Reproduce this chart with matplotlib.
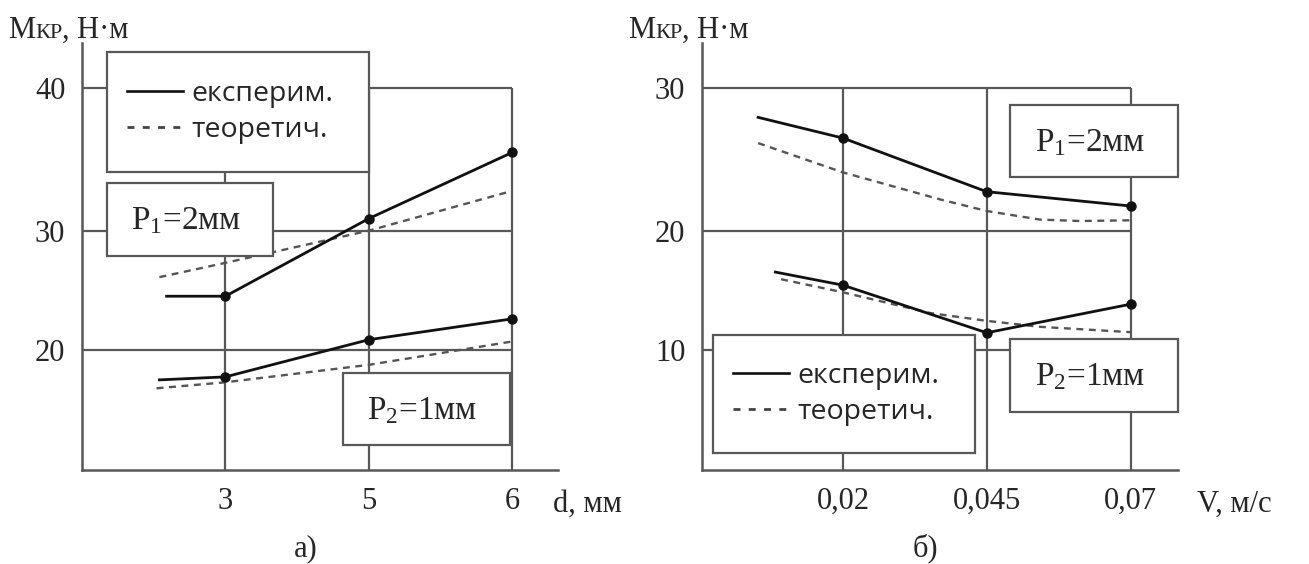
import numpy as np
import matplotlib
matplotlib.use('Agg')
import matplotlib.pyplot as plt
from matplotlib.lines import Line2D
from matplotlib.patches import Rectangle
from matplotlib.offsetbox import TextArea, HPacker, AnchoredOffsetbox

plt.rcParams['font.family'] = ['Liberation Serif', 'DejaVu Serif']
plt.rcParams['mathtext.fontset'] = 'custom'
plt.rcParams['mathtext.rm'] = 'Liberation Serif'
plt.rcParams['mathtext.it'] = 'Liberation Serif:italic'
plt.rcParams['mathtext.bf'] = 'Liberation Serif:bold'
plt.rcParams['lines.scale_dashes'] = False

W, H = 1309, 564
GRID = '#585858'
TXT = '#262626'

# а) M_kr vs d (x = index of the d tick)
d_ticks = ["3", "5", "6"]
a_yticks = [20, 30, 40]
a_p1_exp_x = [-0.41, 0, 1, 2]
a_p1_exp_y = [24.5, 24.5, 30.85, 35.5]
a_p1_th_x = [-0.46, 0, 1, 2]
a_p1_th_y = [26.1, 27.3, 30.0, 32.8]
a_p2_exp_x = [-0.46, 0, 1, 2]
a_p2_exp_y = [17.5, 17.75, 20.85, 22.6]
a_p2_th_x = [-0.48, 0, 1, 2]
a_p2_th_y = [16.8, 17.3, 18.75, 20.7]

# б) M_kr vs V (x = index of the V tick)
v_ticks = ["0,02", "0,045", "0,07"]
b_yticks = [10, 20, 30]
b_p1_exp_x = [-0.59, 0, 1, 2]
b_p1_exp_y = [27.95, 26.5, 22.75, 21.75]
b_p1_th_x = [-0.59, 0, 0.68, 1, 1.37, 1.65, 2]
b_p1_th_y = [26.15, 24.1, 22.2, 21.4, 20.8, 20.7, 20.75]
b_p2_exp_x = [-0.47, 0, 1, 2]
b_p2_exp_y = [16.55, 15.45, 11.45, 13.85]
b_p2_th_x = [-0.43, 0, 0.61, 1, 1.37, 2]
b_p2_th_y = [15.95, 14.85, 13.1, 12.45, 11.95, 11.5]

legend_labels = ["експерим.", "теоретич."]


def px_rect(x0, y0, x1, y1):
    # pixel box (origin top-left) -> figure fraction [l, b, w, h]
    return [x0 / W, 1 - y1 / H, (x1 - x0) / W, (y1 - y0) / H]


def stretch_y(ax, knots_v, knots_p):
    kv = np.asarray(knots_v, float)
    kp = np.asarray(knots_p, float)
    ax.set_yscale('function', functions=(lambda y: np.interp(y, kv, kp),
                                         lambda p: np.interp(p, kp, kv)))


def setup(ax, xlabels, yticks, xlim, ylim, knots_v, knots_p):
    stretch_y(ax, knots_v, knots_p)
    ax.set_xlim(*xlim)
    ax.set_ylim(*ylim)
    for s in ['top', 'right']:
        ax.spines[s].set_visible(False)
    for s in ['left', 'bottom']:
        ax.spines[s].set_color(GRID)
        ax.spines[s].set_linewidth(1.8)
    ax.set_xticks(range(len(xlabels)), xlabels)
    ax.set_yticks(yticks, [str(v) for v in yticks])
    ax.minorticks_off()
    ax.tick_params(length=0, labelsize=22, labelcolor=TXT)
    ax.tick_params(axis='x', pad=12)
    ax.tick_params(axis='y', pad=12)
    ax.hlines(yticks, xlim[0], len(xlabels) - 1, color=GRID, lw=1.6, zorder=1)
    ax.vlines(range(len(xlabels)), ylim[0], max(yticks), color=GRID, lw=1.6, zorder=1)


def series(ax, ex, ey, tx, ty):
    ax.plot(ex, ey, color='#111111', lw=2.0, marker='o', ms=6.5,
            markevery=list(range(1, len(ex))), zorder=4)
    ax.plot(tx, ty, color='#555555', lw=1.7, dashes=(5, 4), zorder=3)


def frame(x0, y0, x1, y1):
    l, b, w, h = px_rect(x0, y0, x1, y1)
    fig.add_artist(Rectangle((l, b), w, h, transform=fig.transFigure,
                             fc='white', ec=GRID, lw=1.6, zorder=2))


def p_label(x0, y0, x1, y1, text):
    frame(x0, y0, x1, y1)
    fig.text(((x0 + x1) / 2 - 4) / W, 1 - (y0 + 46) / H, text,
             ha='center', va='baseline', fontsize=24, color=TXT, zorder=3)


def legend_box(x0, y0, x1, y1):
    frame(x0, y0, x1, y1)
    handles = [Line2D([], [], color='#111111', lw=1.9),
               Line2D([], [], color='#444444', lw=2.0, dashes=(5, 6))]
    fig.legend(handles, legend_labels, loc='center left',
               bbox_to_anchor=((x0 + 20) / W, 1 - (y0 + y1) / 2 / H),
               frameon=False, borderpad=0, borderaxespad=0,
               handlelength=1.95, handletextpad=0.3, labelspacing=0.25,
               prop={'family': 'Open Sans', 'size': 20.5}, labelcolor=TXT)


def y_title(x, y_bottom):
    parts = [TextArea('M', textprops=dict(fontsize=22, color=TXT)),
             TextArea('КР', textprops=dict(fontsize=16, color=TXT)),
             TextArea(', Н·м', textprops=dict(fontsize=22, color=TXT))]
    box = HPacker(children=parts, align='baseline', pad=0, sep=0)
    fig.add_artist(AnchoredOffsetbox(loc='lower left', child=box, pad=0, borderpad=0,
                                     frameon=False,
                                     bbox_to_anchor=(x / W, 1 - y_bottom / H),
                                     bbox_transform=fig.transFigure))


fig = plt.figure(figsize=(W / 100, H / 100), dpi=100)
ax_a = fig.add_axes(px_rect(82, 43, 558, 470))
ax_b = fig.add_axes(px_rect(702, 43, 1178, 470))

setup(ax_a, d_ticks, a_yticks, (-1.0, 2.32), (10, 43.2),
      [0, 10, 20, 30, 40, 60], [-120, 0, 120, 239, 381, 665])
setup(ax_b, v_ticks, b_yticks, (-0.98, 2.33), (0, 33.15),
      [-10, 0, 10, 20, 30, 50], [-120, 0, 120, 239, 382, 668])

series(ax_a, a_p1_exp_x, a_p1_exp_y, a_p1_th_x, a_p1_th_y)
series(ax_a, a_p2_exp_x, a_p2_exp_y, a_p2_th_x, a_p2_th_y)
series(ax_b, b_p1_exp_x, b_p1_exp_y, b_p1_th_x, b_p1_th_y)
series(ax_b, b_p2_exp_x, b_p2_exp_y, b_p2_th_x, b_p2_th_y)

legend_box(107, 52, 369, 172)
legend_box(713, 335, 975, 453)
p_label(107, 183, 273, 256, r'P$_1$=2мм')
p_label(343, 373, 510, 445, r'P$_2$=1мм')
p_label(1010, 105, 1178, 177, r'P$_1$=2мм')
p_label(1010, 339, 1178, 412, r'P$_2$=1мм')

y_title(8, 45)
y_title(628, 45)
fig.text(553 / W, 1 - 512 / H, 'd, мм', ha='left', va='baseline', fontsize=22, color=TXT)
fig.text(1197 / W, 1 - 512 / H, 'V, м/с', ha='left', va='baseline', fontsize=22, color=TXT)
fig.text(306 / W, 1 - 556 / H, 'а)', ha='center', va='baseline', fontsize=22, color=TXT)
fig.text(925 / W, 1 - 556 / H, 'б)', ha='center', va='baseline', fontsize=22, color=TXT)

plt.savefig('out.png', dpi=100)
plt.close()
